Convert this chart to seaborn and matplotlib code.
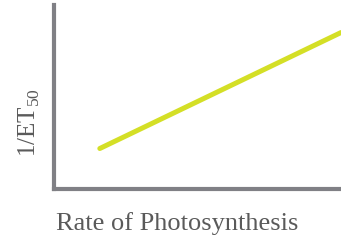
import matplotlib
matplotlib.use("Agg")
import matplotlib.pyplot as plt
import seaborn as sns
import pandas as pd

# values (arbitrary units)
rate = [1.6, 10.0]
inv_et50 = [2.2, 8.5]

df = pd.DataFrame({"rate": rate, "inv_et50": inv_et50})

sns.set_style("white")
plt.rcParams['font.family'] = ['Liberation Serif', 'DejaVu Serif']
plt.rcParams['mathtext.fontset'] = 'custom'
plt.rcParams['mathtext.rm'] = 'Liberation Serif'

fig = plt.figure(figsize=(3.41, 2.4), dpi=100)
ax = fig.add_axes([0.158, 0.2125, 0.842, 0.767])

sns.lineplot(data=df, x="rate", y="inv_et50", ax=ax, color="#d4df26", linewidth=3.6)

ax.set_xlim(0, 10)
ax.set_ylim(0, 10)
ax.set_xticks([])
ax.set_yticks([])
for s in ["top", "right"]:
    ax.spines[s].set_visible(False)
for s in ["left", "bottom"]:
    ax.spines[s].set_color("#808085")
    ax.spines[s].set_linewidth(3.0)

ax.set_xlabel("Rate of Photosynthesis", fontsize=19, color="#5a5a5a")
ax.set_ylabel("1/ET$_{50}$", fontsize=18, color="#5a5a5a")
ax.xaxis.set_label_coords(0.43, -0.125)
ax.yaxis.set_label_coords(-0.042, 0.36)

fig.savefig("out.png", dpi=100)
